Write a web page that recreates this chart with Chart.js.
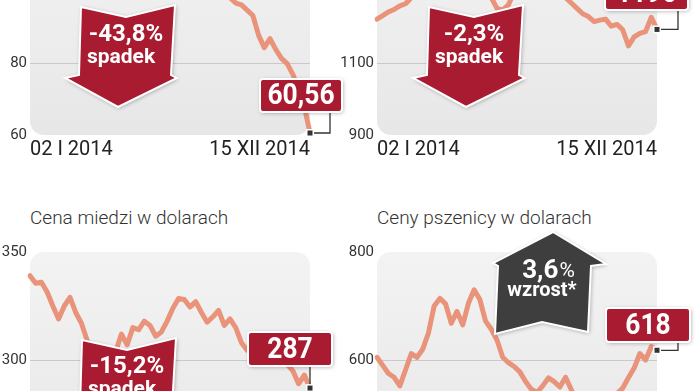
<!DOCTYPE html>
<html>
<head>
<meta charset="utf-8">
<script src="https://cdn.jsdelivr.net/npm/chart.js@4.4.1/dist/chart.umd.min.js"></script>
<style>
  html, body { margin: 0; padding: 0; background: #fff; overflow: hidden; }
  body { width: 696px; height: 391px; position: relative; font-family: Roboto, sans-serif; }
  canvas { position: absolute; }
  .title { position: absolute; font: 300 19px Roboto, sans-serif; color: #333; white-space: nowrap; line-height: 22px; }
</style>
</head>
<body>
<canvas id="oil" width="348" height="260" style="left:0;top:-91px"></canvas>
<canvas id="gold" width="378" height="260" style="left:318px;top:-91px"></canvas>
<div class="title" style="left:30px;top:207px">Cena miedzi w dolarach</div>
<div class="title" style="left:377px;top:207px">Ceny pszenicy w dolarach</div>
<canvas id="copper" width="348" height="260" style="left:0;top:230px"></canvas>
<canvas id="wheat" width="378" height="260" style="left:318px;top:230px"></canvas>
<script>
// first and last date on the x axis (weekly points in between)
const firstDay = '02 I 2014';
const lastDay = '15 XII 2014';

// ropa (USD / baryłka)
const oilValues = [107.8, 107, 106.5, 107.5, 106.5, 108.5, 109.5, 110, 109, 108,
  107, 106.5, 107.5, 106, 108, 109.5, 110, 108.5, 108, 108.5,
  109.5, 110, 109, 109.5, 113, 114.5, 113, 111, 108, 107.5,
  108.5, 105, 104, 102.5, 101.5, 98.5, 97, 96.5, 95, 93.5,
  88, 84.5, 87, 84, 81.5, 80, 77, 73, 68, 60.56];
const oilTicks = [60, 120, 20];

// złoto (USD / uncja)
const goldValues = [1225, 1235, 1245, 1252, 1262, 1268, 1285, 1310, 1320, 1330,
  1340, 1370, 1380, 1330, 1295, 1300, 1320, 1295, 1300, 1290,
  1285, 1255, 1250, 1265, 1300, 1315, 1320, 1330, 1310, 1295,
  1305, 1310, 1300, 1285, 1270, 1255, 1240, 1232, 1218, 1222,
  1225, 1205, 1210, 1195, 1150, 1175, 1185, 1190, 1230, 1196];
const goldTicks = [900, 1500, 200];

// miedź (centy / funt)
const copperValues = [339, 335.5, 336, 331.5, 325, 319, 325, 329, 322, 317,
  309, 302, 297, 296, 300, 304, 312, 307, 315, 314,
  318, 316, 311, 313, 318, 324, 328.5, 328, 324.5, 327,
  322, 317.5, 320, 323, 316, 319, 315, 308, 304.5, 303,
  302, 304, 301, 303, 300, 298, 295, 289, 293, 287];
const copperTicks = [250, 350, 50];

// pszenica (centy / buszel)
const wheatValues = [605, 590, 575, 568, 552, 582, 612, 605, 620, 650,
  700, 714, 704, 668, 690, 665, 705, 730, 712, 672,
  657, 637, 605, 595, 588, 578, 560, 546, 540, 552,
  567, 560, 550, 568, 545, 520, 505, 495, 488, 480,
  500, 520, 538, 548, 567, 585, 612, 600, 625, 618];
const wheatTicks = [400, 800, 200];

const RED = '#a81b30';
const DARK = '#3e3e3e';
const LINE = '#e8937a';

function labelsFor(values) {
  return values.map((v, i) => i === 0 ? firstDay : (i === values.length - 1 ? lastDay : ''));
}

const plotBg = {
  id: 'plotBg',
  beforeDraw(chart) {
    const { ctx, chartArea: a } = chart;
    ctx.save();
    const g = ctx.createLinearGradient(0, a.top, 0, a.bottom);
    g.addColorStop(0, '#f3f3f3');
    g.addColorStop(1, '#e7e7e7');
    ctx.fillStyle = g;
    ctx.beginPath();
    ctx.roundRect(a.left, a.top, a.width, a.height, 14);
    ctx.fill();
    ctx.restore();
  }
};

function shadowOn(ctx) {
  ctx.shadowColor = 'rgba(0,0,0,0.35)';
  ctx.shadowBlur = 4;
  ctx.shadowOffsetX = 1;
  ctx.shadowOffsetY = 1;
}

function poly(ctx, pts, fill) {
  ctx.save();
  shadowOn(ctx);
  ctx.beginPath();
  pts.forEach((p, i) => i ? ctx.lineTo(p[0], p[1]) : ctx.moveTo(p[0], p[1]));
  ctx.closePath();
  ctx.fillStyle = fill;
  ctx.fill();
  ctx.shadowColor = 'transparent';
  ctx.strokeStyle = '#fff';
  ctx.lineWidth = 2;
  ctx.stroke();
  ctx.restore();
}

function txt(ctx, s, x, y, font, sx) {
  ctx.save();
  ctx.font = font;
  ctx.fillStyle = '#fff';
  ctx.textAlign = 'center';
  ctx.textBaseline = 'middle';
  ctx.translate(x, y);
  ctx.scale(sx || 1, 1);
  ctx.fillText(s, 0, 0);
  ctx.restore();
}

function valueBox(ctx, x, y, w, h, s) {
  ctx.save();
  shadowOn(ctx);
  ctx.beginPath();
  ctx.roundRect(x, y, w, h, 3);
  ctx.fillStyle = RED;
  ctx.fill();
  ctx.shadowColor = 'transparent';
  ctx.strokeStyle = '#fff';
  ctx.lineWidth = 2;
  ctx.stroke();
  ctx.restore();
  txt(ctx, s, x + w / 2, y + h / 2 + 1, 'bold 30px Roboto', 0.88);
}

function connector(ctx, pts) {
  ctx.save();
  ctx.strokeStyle = '#333';
  ctx.lineWidth = 1.3;
  ctx.beginPath();
  pts.forEach((p, i) => i ? ctx.lineTo(p[0], p[1]) : ctx.moveTo(p[0], p[1]));
  ctx.stroke();
  ctx.restore();
}

function marker(ctx, x, y) {
  ctx.save();
  ctx.fillStyle = '#fff';
  ctx.fillRect(x - 4, y - 4, 8, 8);
  ctx.fillStyle = '#333';
  ctx.fillRect(x - 2.5, y - 2.5, 5, 5);
  ctx.restore();
}

// down arrow outline in page coordinates (oil panel), shifted for the others
const downArrow = [[81, 7], [126, 17], [175, 5], [171, 75], [177, 78], [118, 107], [65, 78], [79, 75]];
const upArrow = [[553, 232], [606, 264], [591, 266], [588, 332], [542, 322], [495, 334], [498, 266], [493, 263]];

function makeChart(id, values, ticks, gridValue, left, top, axisW, padRight, padTop, xH, decor) {
  const ctx = document.getElementById(id).getContext('2d');
  new Chart(ctx, {
    type: 'line',
    data: {
      labels: labelsFor(values),
      datasets: [{
        data: values,
        borderColor: LINE,
        borderWidth: 5,
        pointRadius: 0,
        tension: 0,
        borderJoinStyle: 'round',
        borderCapStyle: 'round'
      }]
    },
    options: {
      responsive: false,
      animation: false,
      layout: { padding: { left: 0, right: padRight, top: padTop, bottom: 0 } },
      plugins: { legend: { display: false }, tooltip: { enabled: false } },
      scales: {
        x: {
          offset: false,
          grid: { display: false, drawTicks: false },
          border: { display: false },
          afterFit: s => { s.height = xH; },
          ticks: {
            autoSkip: false,
            maxRotation: 0,
            align: 'inner',
            padding: 3,
            color: '#222',
            font: { family: 'Roboto', size: 20 },
            callback: function (v) { return this.getLabelForValue(v); }
          }
        },
        y: {
          min: ticks[0], max: ticks[1],
          afterFit: s => { s.width = axisW; },
          grid: {
            drawTicks: false,
            color: c => (c.tick && c.tick.value === gridValue) ? '#c9c9c9' : 'transparent',
            lineWidth: 1
          },
          border: { display: false },
          ticks: {
            stepSize: ticks[2],
            padding: 3,
            color: '#333',
            font: { family: 'Roboto', size: 15 },
            callback: v => String(v)
          }
        }
      }
    },
    plugins: [plotBg, {
      id: 'decor',
      afterDatasetsDraw(chart) {
        const c = chart.ctx;
        const meta = chart.getDatasetMeta(0);
        const last = meta.data[meta.data.length - 1];
        const P = (x, y) => [x - left, y - top];
        decor(c, P, last.x, last.y);
      }
    }]
  });
}

makeChart('oil', oilValues, oilTicks, 80, 0, -91, 30, 38, 10, 34, (c, P, mx, my) => {
  poly(c, downArrow.map(p => P(p[0], p[1])), RED);
  txt(c, '-43,8%', ...P(126, 35), 'bold 24px Roboto');
  txt(c, 'spadek', ...P(121, 58), 'bold 21px Roboto');
  const b = P(260, 79);
  connector(c, [[mx, my], [P(330, 0)[0], my], P(330, 112)]);
  valueBox(c, b[0], b[1], 82, 33, '60,56');
  marker(c, mx, my);
});

makeChart('gold', goldValues, goldTicks, 1100, 318, -91, 59, 39, 10, 34, (c, P, mx, my) => {
  poly(c, downArrow.map(p => P(p[0] + 348, p[1])), RED);
  txt(c, '-2,3%', ...P(474, 35), 'bold 24px Roboto');
  txt(c, 'spadek', ...P(469, 58), 'bold 21px Roboto');
  const b = P(605, -24);
  connector(c, [[mx, my], [P(678, 0)[0], my], P(678, 10)]);
  valueBox(c, b[0], b[1], 83, 34, '1196');
  marker(c, mx, my);
});

makeChart('copper', copperValues, copperTicks, 300, 0, 230, 30, 38, 22, 22, (c, P, mx, my) => {
  poly(c, downArrow.map(p => P(p[0] + 1, p[1] + 333)), RED);
  txt(c, '-15,2%', ...P(127, 367), 'bold 24px Roboto');
  txt(c, 'spadek', ...P(122, 390), 'bold 21px Roboto');
  const b = P(248, 332);
  connector(c, [[mx, my], [mx, b[1] + 34]]);
  valueBox(c, b[0], b[1], 84, 34, '287');
  marker(c, mx, my);
});

makeChart('wheat', wheatValues, wheatTicks, 600, 318, 230, 59, 39, 22, 22, (c, P, mx, my) => {
  poly(c, upArrow.map(p => P(p[0], p[1])), DARK);
  c.save();
  c.fillStyle = '#fff';
  c.textBaseline = 'middle';
  c.font = 'bold 26px Roboto';
  const w1 = c.measureText('3,6').width;
  c.font = '21px Roboto';
  const w2 = c.measureText('%').width;
  const p = P(548 - (w1 + w2) / 2, 271);
  c.font = 'bold 26px Roboto';
  c.fillText('3,6', p[0], p[1]);
  c.font = '21px Roboto';
  c.fillText('%', p[0] + w1 + 1, p[1] + 1);
  c.restore();
  txt(c, 'wzrost*', ...P(542, 291), 'bold 20px Roboto');
  const b = P(606, 308);
  connector(c, [[mx, my], [P(678, 0)[0], my], P(678, 342)]);
  valueBox(c, b[0], b[1], 84, 34, '618');
  marker(c, mx, my);
});
</script>
</body>
</html>
